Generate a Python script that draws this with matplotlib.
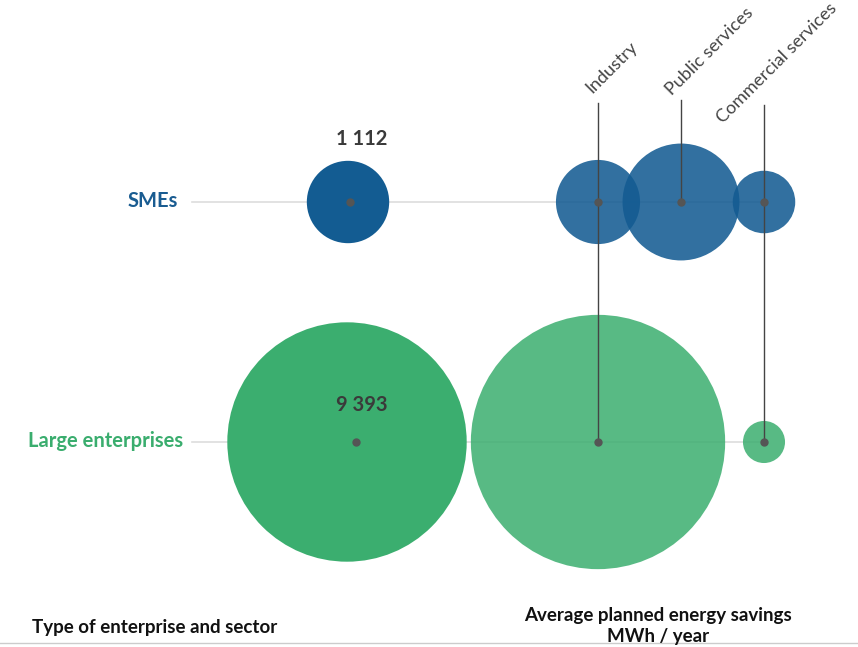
import matplotlib.pyplot as plt
from matplotlib.patches import Circle
import numpy as np

plt.rcParams['font.family'] = ['Lato', 'DejaVu Sans']

# data
groups = ['SMEs', 'Large enterprises']
totals = [1112, 9393]
total_labels = ['1 112', '9 393']
sectors = ['Industry', 'Public services', 'Commercial services']
sector_values = {
    'SMEs': [1160, 2240, 640],
    'Large enterprises': [10600, 0, 290],
}

# layout (pixel space, y down)
W, H = 858, 647
row_y = [202, 442]
total_x = [348, 347]      # circle centres
total_dot_x = [350, 356]  # dot positions as drawn in the source
sector_x = [598, 681, 764]
k = 1.235  # radius px per sqrt(MWh)

group_col = ['#1a5c91', '#3aad6e']
total_fill = ['#135c92', '#3bae6f']
sector_fill = ['#135b92', '#3bae6f']
sector_alpha = [0.87, 0.85]
dot_col = '#555555'
line_col = '#dddddd'

fig = plt.figure(figsize=(W / 100, H / 100), dpi=100)
ax = fig.add_axes([0, 0, 1, 1])
ax.set_xlim(0, W)
ax.set_ylim(H, 0)
ax.axis('off')

# horizontal guide lines (end at last sector dot)
for i, g in enumerate(groups):
    right = max(sx for sx, v in zip(sector_x, sector_values[g]) if v > 0)
    ax.plot([192, right], [row_y[i], row_y[i]], color=line_col, lw=1.2, zorder=1)

# total circles
for i, g in enumerate(groups):
    r = k * np.sqrt(totals[i])
    ax.add_patch(Circle((total_x[i], row_y[i]), r, color=total_fill[i], lw=0, zorder=2))
    ax.plot(total_dot_x[i], row_y[i], 'o', color=dot_col, ms=5, zorder=5)
    ax.text(178 + (5 if i else 0), row_y[i] - 1, g, ha='right', va='center',
            fontsize=14.5, fontweight='bold', color=group_col[i])

ax.text(total_x[0] + 14, row_y[0] - 63, total_labels[0], ha='center', va='center',
        fontsize=14.5, fontweight='bold', color='#3a3a3a', zorder=6)
ax.text(total_x[1] + 15, row_y[1] - 37, total_labels[1], ha='center', va='center',
        fontsize=14.5, fontweight='bold', color='#3a3a3a', zorder=6)

# sector circles (translucent, overlaps get darker)
for i, g in enumerate(groups):
    for j, v in enumerate(sector_values[g]):
        if v <= 0:
            continue
        r = k * np.sqrt(v)
        ax.add_patch(Circle((sector_x[j], row_y[i]), r, facecolor=sector_fill[i],
                            alpha=sector_alpha[i], lw=0, zorder=3))

# vertical connector lines + dots
for j, s in enumerate(sectors):
    ys = [row_y[i] for i, g in enumerate(groups) if sector_values[g][j] > 0]
    top = [103, 100, 105][j]
    ax.plot([sector_x[j], sector_x[j]], [top, max(ys)], color='#444444', lw=1, zorder=4)
    for y in ys:
        ax.plot(sector_x[j], y, 'o', color=dot_col, ms=5, zorder=5)

# rotated sector labels
label_pos = [(592, 94), (672, 96), (723, 124)]
for j, s in enumerate(sectors):
    ax.text(label_pos[j][0], label_pos[j][1], s, rotation=45, rotation_mode='anchor',
            ha='left', va='baseline', fontsize=13, color='#444444')

# footer
ax.text(32, 627, 'Type of enterprise and sector', ha='left', va='center',
        fontsize=13.5, fontweight='bold', color='#111111')
ax.text(658, 626, 'Average planned energy savings\nMWh / year', ha='center', va='center',
        fontsize=13.5, fontweight='bold', color='#111111', linespacing=1.3)
ax.plot([0, W], [643, 643], color='#cccccc', lw=1)

fig.savefig('out.png', dpi=100)
